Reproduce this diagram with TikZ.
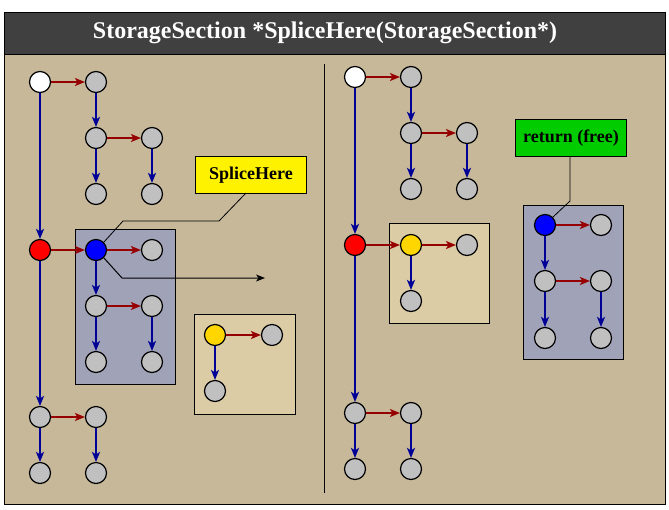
\documentclass[tikz,border=0pt]{standalone}
\usepackage{fontspec}
\setmainfont{Liberation Serif}
\usetikzlibrary{arrows.meta}
\definecolor{bgtan}{RGB}{199,184,153}
\definecolor{lighttan}{RGB}{220,204,166}
\definecolor{boxblue}{RGB}{160,162,184}
\definecolor{titlegray}{RGB}{64,64,64}
\definecolor{ngray}{RGB}{192,192,192}
\definecolor{darkred}{RGB}{150,0,0}
\definecolor{darkblue}{RGB}{0,0,150}
\definecolor{gold}{RGB}{255,214,0}
\definecolor{lgreen}{RGB}{0,204,0}
\tikzset{
  nd/.style={circle,draw=black,line width=1.2pt,minimum size=21pt,inner sep=0pt,fill=ngray},
  ra/.style={draw=darkred,line width=2pt,-{Stealth[length=10pt,width=8pt,inset=2.5pt]}},
  ba/.style={draw=darkblue,line width=2pt,-{Stealth[length=10pt,width=8pt,inset=2.5pt]}},
  panel/.style={draw=black,line width=1pt},
  lbl/.style={draw=black,line width=1pt,font=\fontsize{18}{20}\selectfont\bfseries,inner sep=0pt,anchor=north west},
  callout/.style={draw=black,line width=0.8pt}
}
\begin{document}
\begin{tikzpicture}[x=1pt,y=-1pt]
\useasboundingbox (0,0) rectangle (669,509);
% frame
\fill[bgtan] (4,54) rectangle (665,504);
\fill[titlegray] (4,12) rectangle (665,54);
\draw[line width=1pt] (4,12) rectangle (665,504);
\draw[line width=1pt] (4,54) -- (665,54);
\node[text=white,font=\fontsize{24}{27}\selectfont\bfseries] (title) at (325,33) {StorageSection *SpliceHere(StorageSection*)};
\draw[line width=1pt] (324,64) -- (324,493);
% sub boxes
\draw[panel,fill=boxblue] (75,229) rectangle (175,384);
\draw[panel,fill=lighttan] (194,314) rectangle (295,414);
\draw[panel,fill=lighttan] (389,223) rectangle (489,323);
\draw[panel,fill=boxblue] (523,205) rectangle (623,359);
% labels
\node[lbl,fill=yellow,minimum width=111pt,minimum height=37pt] (splice) at (195,156) {SpliceHere};
\node[lbl,fill=lgreen,minimum width=111pt,minimum height=37pt] (ret) at (515,119) {return (free)};
% left panel nodes
\node[nd,fill=white] (a) at (40,82) {};
\node[nd] (b) at (96,82) {};
\node[nd] (c) at (96,138) {};
\node[nd] (d) at (152,138) {};
\node[nd] (e) at (96,194) {};
\node[nd] (f) at (152,194) {};
\node[nd,fill=red] (g) at (40,250) {};
\node[nd,fill=blue] (h) at (96,250) {};
\node[nd] (i) at (152,250) {};
\node[nd] (j) at (96,306) {};
\node[nd] (k) at (152,306) {};
\node[nd] (l) at (96,362) {};
\node[nd] (m) at (152,362) {};
\node[nd] (n) at (40,417) {};
\node[nd] (o) at (96,417) {};
\node[nd] (p) at (40,473) {};
\node[nd] (q) at (96,473) {};
\node[nd,fill=gold] (y1) at (215,335) {};
\node[nd] (y2) at (272,335) {};
\node[nd] (y3) at (215,391) {};
% left edges
\draw[ra] (a) -- (b);
\draw[ba] (a) -- (g);
\draw[ba] (b) -- (c);
\draw[ra] (c) -- (d);
\draw[ba] (c) -- (e);
\draw[ba] (d) -- (f);
\draw[ra] (g) -- (h);
\draw[ba] (g) -- (n);
\draw[ra] (h) -- (i);
\draw[ba] (h) -- (j);
\draw[ra] (j) -- (k);
\draw[ba] (j) -- (l);
\draw[ba] (k) -- (m);
\draw[ra] (n) -- (o);
\draw[ba] (n) -- (p);
\draw[ba] (o) -- (q);
\draw[ra] (y1) -- (y2);
\draw[ba] (y1) -- (y3);
% callouts left
\coordinate (s1) at (123,221);
\coordinate (s2) at (219,221);
\coordinate (s3) at (246,193);
\draw[callout] (h.north east) -- (s1) -- (s2) -- (s3);
\coordinate (t1) at (122,278);
\coordinate (t2) at (265,278);
\draw[callout,line width=1pt,-{Stealth[length=9pt,width=7pt,inset=2.5pt]}] (h.south east) -- (t1) -- (t2);
% right panel nodes
\node[nd,fill=white] (A) at (355,77) {};
\node[nd] (B) at (411,77) {};
\node[nd] (C) at (411,133) {};
\node[nd] (D) at (467,133) {};
\node[nd] (E) at (411,189) {};
\node[nd] (F) at (467,189) {};
\node[nd,fill=red] (G) at (355,245) {};
\node[nd,fill=gold] (H) at (411,245) {};
\node[nd] (I) at (467,245) {};
\node[nd] (J) at (411,301) {};
\node[nd] (N) at (355,413) {};
\node[nd] (O) at (411,413) {};
\node[nd] (P) at (355,469) {};
\node[nd] (Q) at (411,469) {};
\node[nd,fill=blue] (R1) at (545,225) {};
\node[nd] (R2) at (601,225) {};
\node[nd] (R3) at (545,281) {};
\node[nd] (R4) at (601,281) {};
\node[nd] (R5) at (545,338) {};
\node[nd] (R6) at (601,338) {};
% right edges
\draw[ra] (A) -- (B);
\draw[ba] (A) -- (G);
\draw[ba] (B) -- (C);
\draw[ra] (C) -- (D);
\draw[ba] (C) -- (E);
\draw[ba] (D) -- (F);
\draw[ra] (G) -- (H);
\draw[ba] (G) -- (N);
\draw[ra] (H) -- (I);
\draw[ba] (H) -- (J);
\draw[ra] (N) -- (O);
\draw[ba] (N) -- (P);
\draw[ba] (O) -- (Q);
\draw[ra] (R1) -- (R2);
\draw[ba] (R1) -- (R3);
\draw[ra] (R3) -- (R4);
\draw[ba] (R3) -- (R5);
\draw[ba] (R4) -- (R6);
% callout right
\coordinate (u1) at (570,156);
\coordinate (u2) at (570,201);
\draw[callout] (u1) -- (u2) -- (R1.north east);
\end{tikzpicture}
\end{document}
